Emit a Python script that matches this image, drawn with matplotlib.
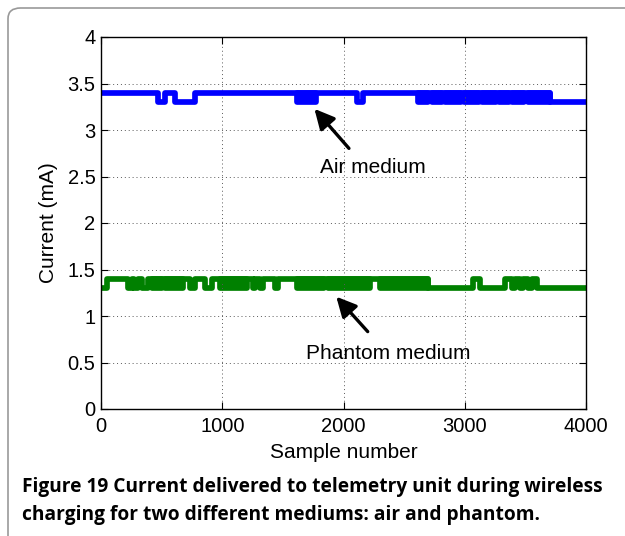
import matplotlib
matplotlib.use("Agg")
import matplotlib.pyplot as plt
from matplotlib.patches import FancyBboxPatch

plt.rcParams['font.family'] = ['Liberation Sans', 'DejaVu Sans']

# niveles de corriente (mA)
air_hi, air_lo = 3.4, 3.3
ph_hi, ph_lo = 1.4, 1.3
n_samples = 4000

# tramos donde la señal se queda en el nivel bajo (muestra inicial, final)
air_dips = [(468, 528), (610, 775), (2111, 2160), (3703, 4000)]
# tramos donde la señal parpadea entre los dos niveles
air_flicker = [(1614, 1771), (2614, 2700), (2728, 2810), (2838, 2965), (2993, 3115),
               (3143, 3255), (3283, 3365), (3393, 3490), (3518, 3703)]

ph_dips = [(0, 50), (223, 256), (272, 305), (338, 388), (734, 775), (858, 915),
           (1253, 1270), (1311, 1336), (1435, 1460), (2697, 3070), (3125, 3330),
           (3390, 3415), (3455, 3480), (3520, 3555), (3595, 4000)]
ph_flicker = [(420, 503), (528, 676), (981, 1204), (1616, 1840), (1872, 2218), (2300, 2697)]

xticks = [0, 1000, 2000, 3000, 4000]
yticks = [0, 0.5, 1, 1.5, 2, 2.5, 3, 3.5, 4]
ylabels = ['0', '0.5', '1', '1.5', '2', '2.5', '3', '3.5', '4']


def step_line(dips, hi, lo, end):
    xs, ys = [], []
    pos = 0
    for a, b in dips:
        if a > pos:
            xs += [pos, a]
            ys += [hi, hi]
        xs += [a, b]
        ys += [lo, lo]
        pos = b
    if pos < end:
        xs += [pos, end]
        ys += [hi, hi]
    return xs, ys


fig = plt.figure(figsize=(6.25, 5.36), dpi=100)

# marco redondeado de la figura
frame = FancyBboxPatch((8 / 625, -0.2), 1.2, 1.2 - 8 / 536,
                       boxstyle="round,pad=0,rounding_size=0.02",
                       transform=fig.transFigure, fill=False,
                       edgecolor='#999999', lw=1.2, clip_on=False)
fig.patches.append(frame)

ax = fig.add_axes([101 / 625, 1 - 409 / 536, 485 / 625, 372 / 536])
lw = 4.1

for dips, flick, hi, lo, col in [(air_dips, air_flicker, air_hi, air_lo, '#0000ff'),
                                 (ph_dips, ph_flicker, ph_hi, ph_lo, '#008000')]:
    xs, ys = step_line(dips, hi, lo, n_samples)
    ax.plot(xs, ys, color=col, lw=lw, solid_joinstyle='round', solid_capstyle='butt')
    for a, b in flick:
        pc = ax.fill_between([a, b], lo, hi, color=col, lw=lw, edgecolor=col)
        pc.set_joinstyle('round')

ax.set_xlim(0, 4000)
ax.set_ylim(0, 4)
ax.set_xticks(xticks)
ax.set_yticks(yticks)
ax.set_yticklabels(ylabels)
ax.tick_params(direction='in', top=True, right=True, length=5, labelsize=14.5, pad=4)
ax.tick_params(axis='x', pad=6)
ax.grid(True, color='0.35', linestyle=(0, (1, 3)), lw=0.7)
for s in ax.spines.values():
    s.set_linewidth(1.0)

ax.set_xlabel('Sample number', fontsize=15, labelpad=5)
ax.set_ylabel('Current (mA)', fontsize=15, labelpad=7)

arrow = dict(arrowstyle='-|>', color='black', lw=2.4, mutation_scale=30)
ax.annotate('', xy=(1745, 3.25), xytext=(2060, 2.78), arrowprops=arrow)
ax.text(2240, 2.6, 'Air medium', fontsize=15, ha='center', va='center')
ax.annotate('', xy=(1925, 1.23), xytext=(2215, 0.81), arrowprops=arrow)
ax.text(2370, 0.6, 'Phantom medium', fontsize=15, ha='center', va='center')

cap_font = ['Open Sans', 'DejaVu Sans']
fig.text(22 / 625, 1 - 487 / 536,
         'Figure 19 Current delivered to telemetry unit during wireless',
         fontsize=13.8, fontweight='bold', family=cap_font, va='center')
fig.text(22 / 625, 1 - 515 / 536,
         'charging for two different mediums: air and phantom.',
         fontsize=13.8, fontweight='bold', family=cap_font, va='center')

fig.savefig('out.png', dpi=100)
